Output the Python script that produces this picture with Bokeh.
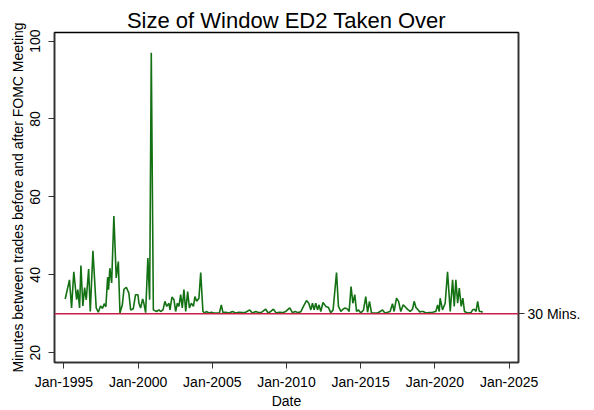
from bokeh.plotting import figure
from bokeh.models import LinearAxis, FixedTicker, Span, Range1d
from bokeh.embed import file_html
from bokeh.resources import INLINE

# FOMC meeting dates (decimal years) and window size in minutes
years = [
    1995.09, 1995.38, 1995.52, 1995.67, 1995.86, 1995.94, 1996.06, 1996.15, 1996.28, 1996.40,
    1996.51, 1996.67, 1996.78, 1996.96, 1997.18, 1997.32, 1997.47, 1997.61, 1997.72, 1997.83,
    1997.95, 1998.01, 1998.10, 1998.22, 1998.37, 1998.53, 1998.67, 1998.78, 1998.94, 1999.05,
    1999.21, 1999.38, 1999.50, 1999.68, 1999.83, 1999.99, 2000.06, 2000.17, 2000.31, 2000.39,
    2000.51, 2000.66, 2000.78, 2000.89, 2001.03, 2001.25, 2001.41, 2001.52, 2001.68, 2001.81,
    2001.93, 2002.08, 2002.15, 2002.28, 2002.42, 2002.53, 2002.65, 2002.75, 2002.87, 2002.98,
    2003.09, 2003.21, 2003.34, 2003.46, 2003.59, 2003.73, 2003.83, 2003.95, 2004.10, 2004.22,
    2004.37, 2004.49, 2004.60, 2004.78, 2004.94, 2005.11, 2005.34, 2005.48, 2005.61, 2005.72,
    2005.90, 2006.13, 2006.36, 2006.58, 2006.80, 2007.03, 2007.25, 2007.52, 2007.70, 2007.93,
    2008.15, 2008.33, 2008.60, 2008.76, 2008.94, 2009.12, 2009.30, 2009.50, 2009.73, 2009.95,
    2010.22, 2010.40, 2010.58, 2010.78, 2010.96, 2011.14, 2011.35, 2011.50, 2011.64, 2011.75,
    2011.86, 2011.97, 2012.09, 2012.19, 2012.31, 2012.46, 2012.65, 2012.83, 2012.98, 2013.14,
    2013.37, 2013.50, 2013.66, 2013.81, 2013.95, 2014.11, 2014.22, 2014.35, 2014.47, 2014.60,
    2014.72, 2014.85, 2015.01, 2015.19, 2015.34, 2015.46, 2015.59, 2015.73, 2015.95, 2016.13,
    2016.31, 2016.47, 2016.63, 2016.81, 2016.98, 2017.14, 2017.25, 2017.41, 2017.55, 2017.70,
    2017.86, 2018.04, 2018.20, 2018.33, 2018.49, 2018.60, 2018.72, 2018.87, 2019.00, 2019.05,
    2019.21, 2019.39, 2019.61, 2019.84, 2020.06, 2020.18, 2020.29, 2020.35, 2020.51, 2020.69,
    2020.85, 2021.03, 2021.19, 2021.30, 2021.41, 2021.53, 2021.64, 2021.77, 2021.88, 2021.99,
    2022.20, 2022.43, 2022.54, 2022.65, 2022.77, 2022.88, 2022.99, 2023.11, 2023.22,
]
minutes = [
    33.8, 38.7, 31.5, 40.8, 33.6, 36.2, 31.5, 42.4, 32.0, 36.7,
    33.6, 41.5, 30.6, 46.2, 31.5, 30.4, 32.0, 31.4, 32.6, 31.8,
    39.4, 36.2, 41.7, 37.9, 55.1, 39.2, 43.4, 30.2, 32.3, 36.3,
    36.8, 35.3, 31.0, 31.3, 34.9, 34.9, 32.7, 31.5, 33.8, 32.7,
    30.3, 44.3, 33.6, 97.0, 31.0, 30.6, 31.0, 30.6, 31.0, 33.2,
    31.9, 32.7, 31.0, 34.3, 33.6, 30.6, 32.7, 31.9, 34.9, 31.5,
    36.2, 30.6, 35.7, 31.5, 32.7, 31.9, 34.4, 33.2, 34.0, 40.6,
    30.6, 30.2, 30.6, 30.2, 30.4, 30.2, 30.2, 30.2, 32.3, 30.3,
    30.4, 30.2, 30.6, 30.2, 30.4, 30.3, 30.4, 31.0, 30.2, 30.6,
    30.3, 30.4, 31.2, 30.2, 30.6, 31.2, 30.2, 30.4, 30.3, 30.6,
    31.5, 30.3, 30.6, 30.3, 30.5, 31.9, 33.4, 32.7, 31.0, 32.7,
    31.0, 32.7, 31.0, 32.3, 30.6, 32.9, 31.9, 31.6, 30.3, 31.0,
    40.6, 31.9, 30.6, 31.2, 31.5, 31.2, 30.6, 37.0, 32.7, 34.9,
    30.6, 31.0, 30.2, 31.0, 34.4, 30.4, 33.2, 30.2, 30.2, 30.2,
    30.6, 31.0, 30.2, 30.4, 30.6, 32.6, 30.6, 34.0, 33.2, 30.6,
    32.3, 31.6, 31.0, 30.6, 31.2, 33.2, 31.6, 31.0, 30.4, 30.6,
    30.6, 30.2, 30.3, 30.4, 30.6, 32.3, 30.6, 34.0, 31.0, 32.7,
    40.8, 30.6, 38.7, 31.9, 38.7, 32.7, 36.6, 31.9, 34.0, 30.6,
    30.2, 30.3, 31.0, 31.2, 30.6, 33.2, 30.6, 30.6, 30.4,
]

x_ticks = [1995, 2000, 2005, 2010, 2015, 2020, 2025]
x_labels = ["Jan-1995", "Jan-2000", "Jan-2005", "Jan-2010", "Jan-2015", "Jan-2020", "Jan-2025"]
y_ticks = [20, 40, 60, 80, 100]
ref_level = 30
ref_label = "30 Mins."

FONT = "Liberation Sans"

p = figure(frame_width=464, frame_height=330, output_backend="svg", toolbar_location=None,
           x_range=Range1d(1994.37, 2025.63), y_range=Range1d(17.5, 102.2),
           min_border_left=54, min_border_right=5, min_border_top=32, min_border_bottom=5)

p.title.text = "Size of Window ED2 Taken Over"
p.title.align = "center"
p.title.text_font = FONT
p.title.text_font_size = "22px"
p.title.text_font_style = "normal"
p.title.text_color = "black"
p.title.standoff = 0
p.title.offset = 0

p.grid.visible = False
p.outline_line_color = "black"
p.outline_line_width = 1.5
p.background_fill_color = "white"
p.border_fill_color = "white"

xa = p.xaxis[0]
xa.ticker = FixedTicker(ticks=x_ticks)
xa.major_label_overrides = dict(zip(x_ticks, x_labels))
xa.axis_label = "Date"

ya = p.yaxis[0]
ya.ticker = FixedTicker(ticks=y_ticks)
ya.major_label_orientation = "vertical"
ya.axis_label = "Minutes between trades before and after FOMC Meeting"

ra = LinearAxis(ticker=FixedTicker(ticks=[ref_level]),
                major_label_overrides={ref_level: ref_label})
p.add_layout(ra, "right")

for ax in [xa, ya, ra]:
    ax.axis_line_color = "#333333"
    ax.axis_line_width = 1.5
    ax.major_tick_line_color = "#333333"
    ax.major_tick_out = 6
    ax.major_tick_in = 0
    ax.minor_tick_line_color = None
    ax.major_label_text_font = FONT
    ax.major_label_text_font_size = "14px"
    ax.major_label_text_color = "black"
    ax.axis_label_text_font = FONT
    ax.axis_label_text_font_size = "14px"
    ax.axis_label_text_font_style = "normal"
    ax.axis_label_text_color = "black"
    ax.axis_label_standoff = 2
    ax.major_label_standoff = 3

xa.major_label_standoff = 5
xa.axis_label_standoff = 0
ya.major_label_standoff = 8

p.add_layout(Span(location=ref_level, dimension="width", line_color="#c8204a", line_width=1.5))

p.line(years, minutes, line_color="#137113", line_width=1.6)

open("out.html", "w").write(file_html(p, INLINE))
